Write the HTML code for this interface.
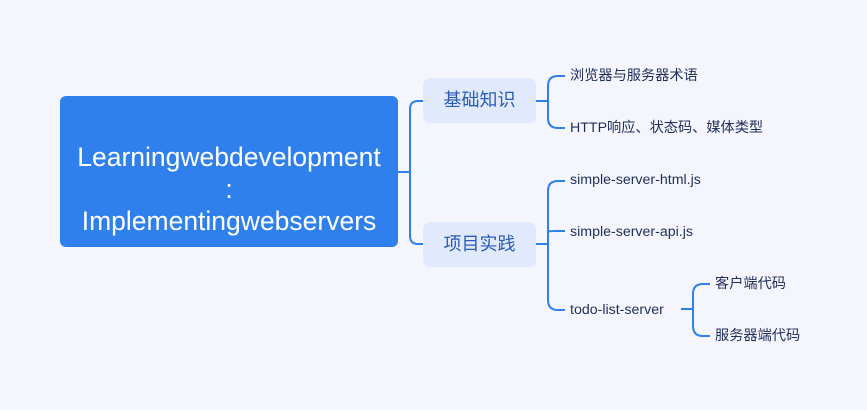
<!DOCTYPE html>
<html><head><meta charset="utf-8"><style>
body{margin:0;width:867px;height:410px;background:#f5f6fd;overflow:hidden;font-family:"Liberation Sans","Noto Sans CJK SC",sans-serif;position:relative}
.root{position:absolute;left:60px;top:96px;width:338px;height:151px;background:#2f80ed;border-radius:6px;color:#fff;font-size:26.5px;line-height:32px;text-align:center}
.root div{position:absolute;left:0;right:0;top:45px}
.b{position:absolute;width:113px;height:45px;background:#e1eafd;border-radius:7px;color:#2a5bb8;font-size:18px;line-height:45px;text-align:center}
.t{position:absolute;color:#1f2d5a;font-size:14.2px;line-height:16px;white-space:nowrap}
svg{position:absolute;left:0;top:0}
</style></head><body>
<svg width="867" height="410" fill="none" stroke="#2f80ed" stroke-width="2">
<path d="M398 172 H410 M423 101 H418 Q410 101 410 109 V236 Q410 244 418 244 H423"/>
<path d="M536 101 H548 M558 76 Q548 76 548 86 V118 Q548 128 558 128 H565"/>
<path d="M558 76 H565"/>
<path d="M536 244 H548 M565 181 H558 Q548 181 548 191 V300 Q548 310 558 310 H565 M548 232 Q548 231 556 231 H565"/>
<path d="M681 309 H693 M710 284 H703 Q693 284 693 294 V326 Q693 336 703 336 H710"/>
</svg>
<div class="root"><div>Learningwebdevelopment<br>:<br>Implementingwebservers</div></div>
<div class="b" style="left:423px;top:78px">基础知识</div>
<div class="b" style="left:423px;top:222px">项目实践</div>
<div class="t" style="left:570px;top:68px">浏览器与服务器术语</div>
<div class="t" style="left:570px;top:120px">HTTP响应、状态码、媒体类型</div>
<div class="t" style="left:570px;top:172px">simple-server-html.js</div>
<div class="t" style="left:570px;top:224px">simple-server-api.js</div>
<div class="t" style="left:570px;top:302px">todo-list-server</div>
<div class="t" style="left:715px;top:276px">客户端代码</div>
<div class="t" style="left:715px;top:328px">服务器端代码</div>
</body></html>
